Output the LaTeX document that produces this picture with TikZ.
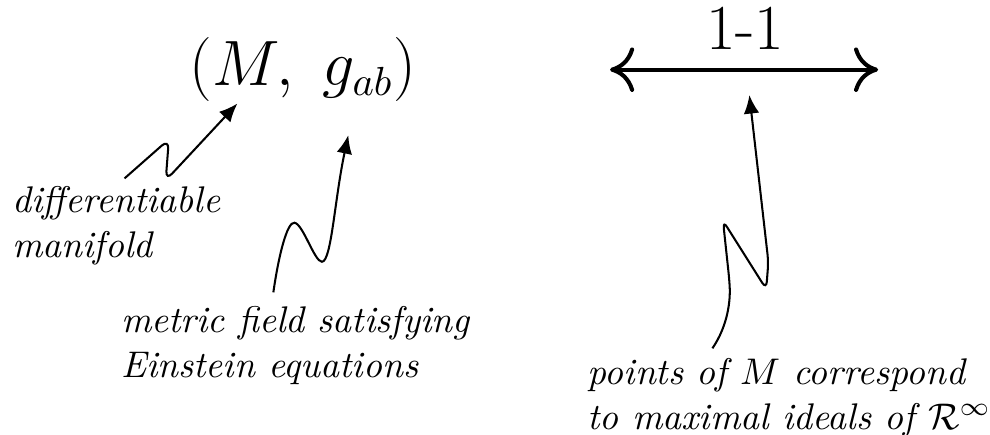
\documentclass[tikz,border=0pt]{standalone}
\usepackage{tikz}
\usetikzlibrary{arrows.meta, positioning}
\usepackage{amsmath,amssymb}

\tikzset{
  note/.style={font=\itshape, align=left, anchor=north west, inner sep=0pt},
  squig/.style={line width=0.55pt, -{Latex[length=5pt,width=4.2pt]}},
  bij/.style={line width=1.1pt,
              {Computer Modern Rightarrow[length=6.5pt,width=12pt]}-{Computer Modern Rightarrow[length=6.5pt,width=12pt]}}
}

\begin{document}
\begin{tikzpicture}
\useasboundingbox (0,0) rectangle (9.38,-4.12);

% the space-time pair
\node[font=\fontsize{16}{19}\selectfont, anchor=base, inner sep=0pt] (pair) at (2.87,-0.81) {$(M,\ g_{ab})$};
\node[note] (diff)   at (0.11,-1.76) {differentiable\\manifold};
\node[note] (metric) at (1.14,-2.90) {metric field satisfying\\Einstein equations};

\coordinate (mfoot) at (1.18,-1.69);
\coordinate (mtip)  at (2.25,-0.98);
\draw[squig, rounded corners=2.5pt] (mfoot) -- (1.60,-1.32) -- (1.57,-1.71) -- (mtip);

\coordinate (gfoot) at (2.59,-2.77);
\coordinate (gtip)  at (3.30,-1.28);
\draw[squig] (gfoot) .. controls (2.64,-2.42) and (2.72,-2.10) .. (2.79,-2.11)
  .. controls (2.87,-2.12) and (2.98,-2.48) .. (3.05,-2.48)
  .. controls (3.14,-2.48) and (3.17,-1.89) .. (gtip);

% the correspondence
\node[font=\LARGE, anchor=base, inner sep=0pt] (oneone) at (7.06,-0.47) {1-1};
\coordinate (bl) at (5.78,-0.66);
\coordinate (br) at (8.32,-0.66);
\draw[bij] (bl) -- (br);

\node[note] (points) at (5.56,-3.39) {points of $M$ correspond\\to maximal ideals of $\mathcal{R}^\infty$};

\coordinate (pfoot) at (6.75,-3.30);
\coordinate (ptip)  at (7.10,-0.90);
\draw[squig, rounded corners=2pt] (pfoot) .. controls (6.90,-3.08) and (6.92,-2.84) .. (6.91,-2.65)
  -- (6.85,-2.09) -- (7.26,-2.74) -- (7.28,-2.48) -- (ptip);
\end{tikzpicture}
\end{document}
